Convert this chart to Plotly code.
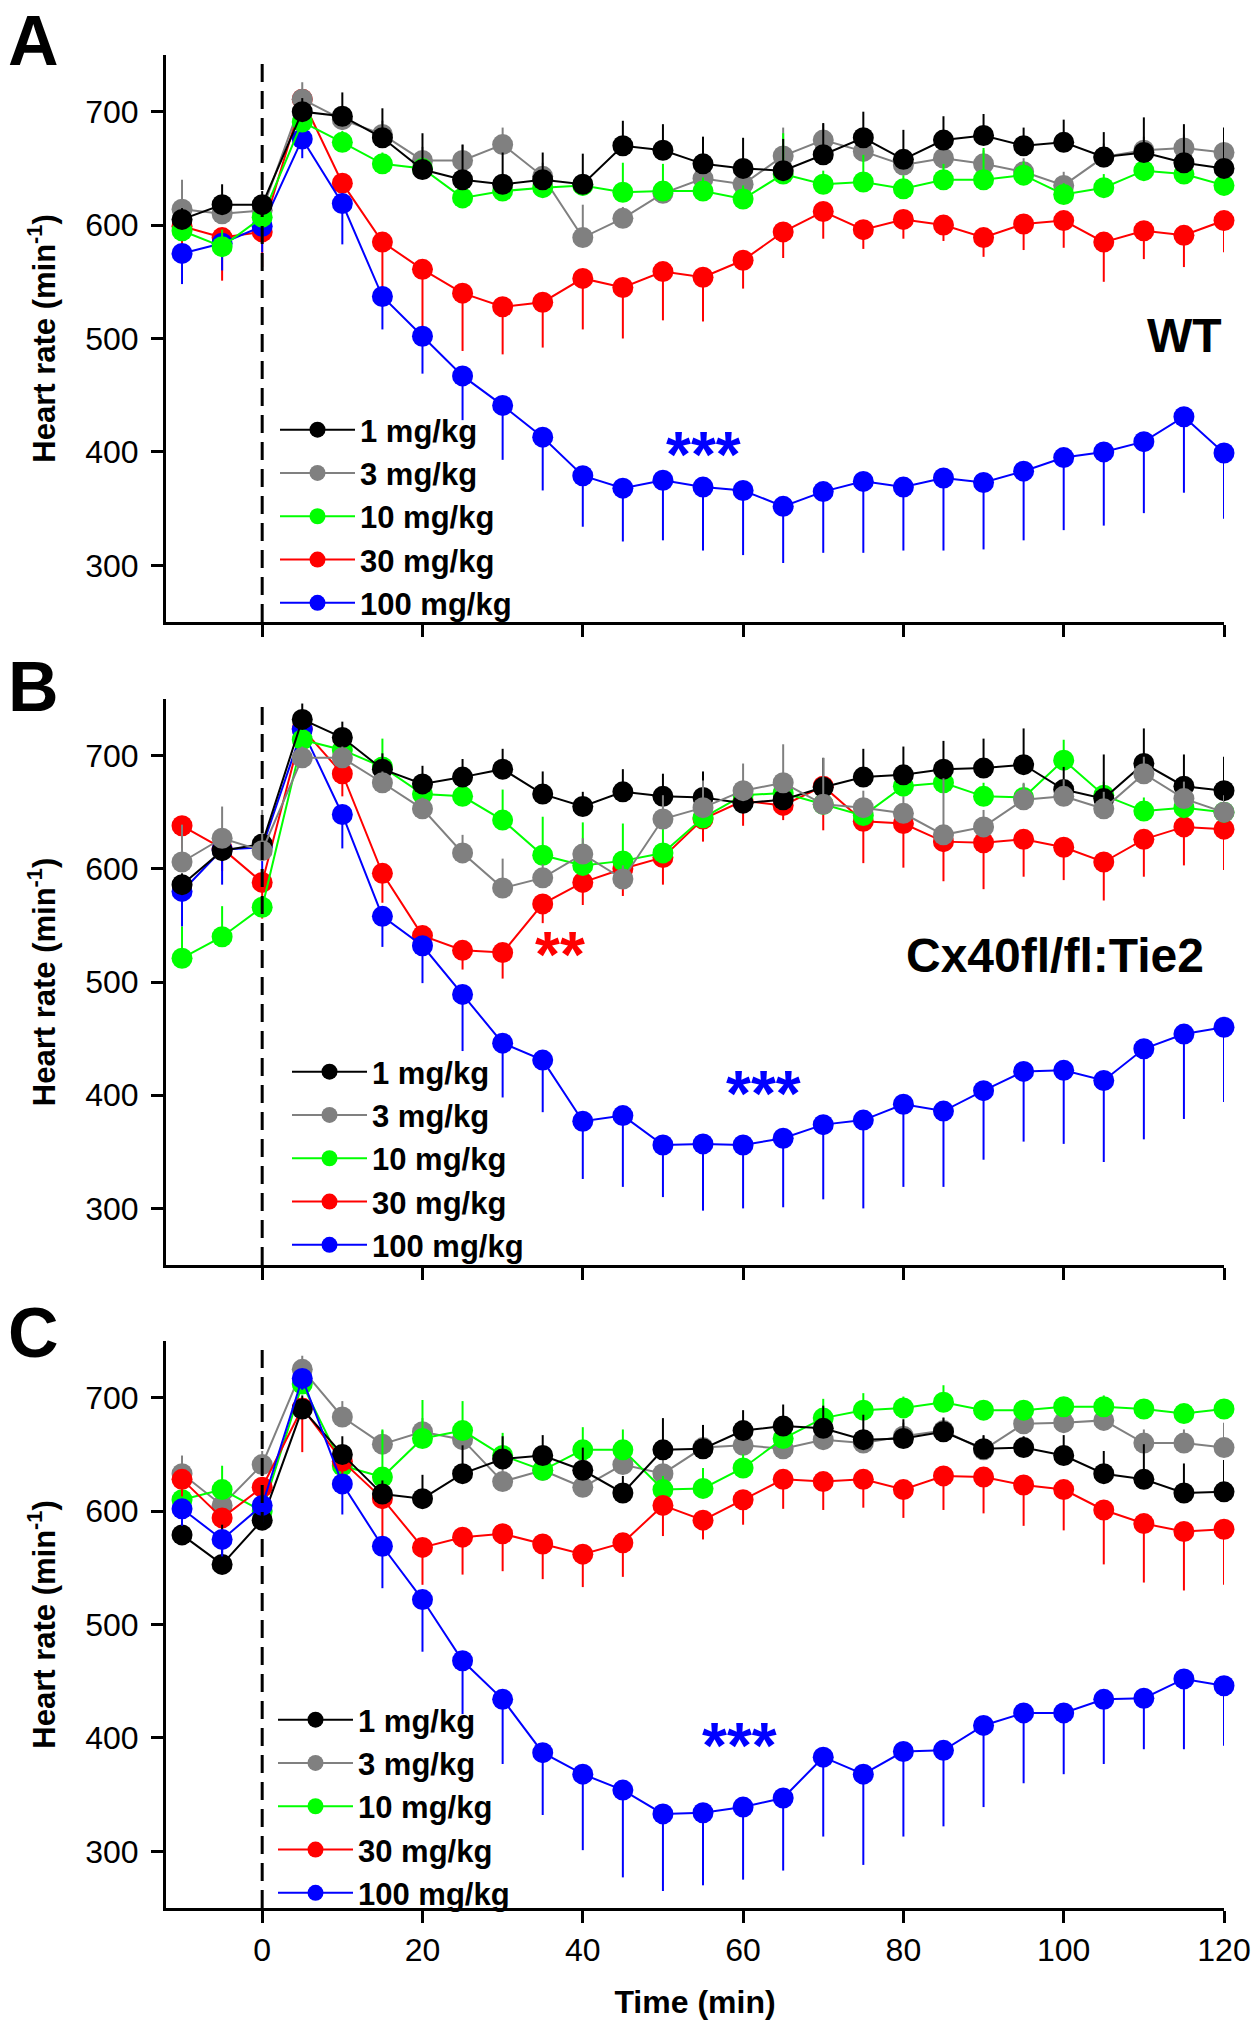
import plotly.graph_objects as go

# ---------------- data ----------------
time_min = [-10, -5, 0, 5, 10, 15, 20, 25, 30, 35, 40, 45, 50, 55, 60,
            65, 70, 75, 80, 85, 90, 95, 100, 105, 110, 115, 120]

doses = ["1 mg/kg", "3 mg/kg", "10 mg/kg", "30 mg/kg", "100 mg/kg"]
colors = ["#000000", "#808080", "#00ff00", "#ff0000", "#0000ff"]
err_up = [True, True, True, False, False]   # direction of the one-sided SEM bar

# Panel A (WT)
A_1 = [605, 618, 618, 700, 696, 677, 649, 640, 636, 640, 636, 670, 666, 654, 650, 648, 662, 677, 658, 675, 679, 670, 673, 660, 664, 655, 650]
A_3 = [614, 610, 613, 711, 693, 680, 657, 657, 671, 643, 589, 606, 628, 641, 636, 661, 675, 665, 653, 659, 654, 647, 635, 660, 666, 668, 664]
A_10 = [595, 581, 607, 691, 673, 654, 650, 624, 630, 633, 635, 629, 630, 630, 623, 645, 636, 638, 632, 640, 640, 644, 627, 633, 648, 645, 635]
A_30 = [599, 589, 594, 711, 637, 585, 561, 540, 528, 532, 553, 545, 559, 554, 569, 594, 612, 596, 605, 600, 589, 601, 604, 585, 595, 591, 604]
A_100 = [575, 584, 599, 676, 619, 537, 502, 467, 441, 413, 379, 368, 375, 369, 366, 352, 365, 374, 369, 377, 373, 383, 395, 400, 409, 431, 399]
A_1_err = [10, 18, 12, 12, 21, 26, 32, 31, 28, 24, 27, 22, 23, 24, 27, 28, 28, 23, 26, 21, 19, 16, 20, 22, 31, 34, 36]
A_3_err = [26, 12, 10, 15, 10, 12, 12, 14, 15, 12, 29, 10, 12, 12, 12, 25, 14, 12, 12, 12, 12, 12, 12, 12, 12, 12, 12]
A_10_err = [12, 15, 10, 10, 10, 10, 10, 10, 10, 10, 10, 26, 24, 12, 12, 36, 12, 24, 12, 14, 28, 12, 10, 12, 12, 10, 10]
A_30_err = [25, 38, 31, 10, 20, 40, 50, 51, 42, 40, 45, 45, 43, 39, 25, 23, 24, 17, 17, 14, 17, 23, 24, 35, 25, 28, 28]
A_100_err = [27, 24, 23, 17, 36, 29, 33, 39, 48, 47, 45, 47, 53, 56, 57, 50, 54, 63, 56, 64, 59, 61, 64, 65, 63, 67, 58]

# Panel B (Cx40fl/fl:Tie2)
B_1 = [586, 616, 622, 732, 716, 688, 675, 681, 688, 666, 655, 668, 664, 663, 658, 661, 672, 681, 683, 688, 689, 692, 670, 662, 693, 673, 669]
B_3 = [606, 627, 616, 698, 698, 676, 653, 614, 583, 592, 613, 591, 644, 654, 669, 676, 657, 654, 649, 630, 637, 661, 664, 653, 684, 662, 650]
B_10 = [521, 540, 566, 714, 705, 690, 666, 664, 643, 612, 603, 607, 614, 645, 665, 667, 657, 647, 673, 676, 664, 663, 696, 665, 651, 654, 650]
B_30 = [638, 618, 588, 724, 684, 596, 541, 528, 526, 569, 588, 600, 610, 644, 660, 656, 673, 642, 640, 624, 623, 626, 619, 606, 626, 637, 635]
B_100 = [580, 617, 619, 723, 648, 558, 532, 489, 446, 431, 377, 382, 356, 357, 356, 362, 374, 378, 392, 386, 404, 421, 422, 413, 441, 454, 460]
B_1_err = [10, 10, 15, 14, 14, 14, 16, 16, 18, 20, 13, 20, 20, 23, 20, 15, 26, 25, 25, 25, 26, 32, 20, 39, 31, 28, 30]
B_3_err = [33, 28, 36, 10, 10, 10, 10, 16, 26, 12, 14, 12, 21, 24, 24, 34, 41, 15, 15, 50, 15, 15, 15, 15, 15, 15, 15]
B_10_err = [28, 27, 10, 10, 10, 25, 12, 12, 27, 34, 38, 33, 26, 12, 12, 12, 12, 12, 12, 12, 12, 12, 18, 12, 12, 12, 12]
B_30_err = [20, 20, 32, 10, 20, 26, 15, 17, 23, 17, 20, 24, 24, 20, 22, 13, 39, 37, 39, 35, 41, 33, 29, 34, 33, 34, 36]
B_100_err = [31, 31, 30, 10, 30, 27, 33, 50, 48, 46, 51, 63, 46, 59, 56, 61, 66, 78, 73, 67, 61, 62, 65, 72, 80, 75, 66]

# Panel C (Cx40-/-)
C_1 = [579, 553, 592, 690, 650, 615, 611, 633, 646, 649, 636, 616, 654, 655, 671, 675, 673, 663, 664, 670, 655, 656, 649, 633, 628, 616, 617]
C_3 = [633, 605, 641, 725, 683, 659, 670, 663, 626, 636, 621, 641, 633, 656, 658, 655, 663, 660, 666, 671, 654, 677, 678, 680, 660, 660, 656]
C_10 = [610, 619, 600, 712, 640, 630, 664, 671, 649, 636, 654, 654, 619, 620, 638, 664, 682, 689, 691, 696, 689, 689, 692, 692, 690, 686, 690]
C_30 = [628, 594, 621, 691, 644, 611, 568, 577, 580, 571, 562, 572, 605, 592, 610, 628, 626, 628, 619, 631, 630, 623, 619, 601, 589, 582, 584]
C_100 = [602, 575, 605, 717, 624, 569, 522, 468, 434, 387, 368, 354, 333, 334, 339, 347, 383, 368, 388, 389, 411, 422, 422, 434, 435, 452, 446]
C_1_err = [12, 35, 20, 12, 16, 12, 21, 25, 20, 18, 20, 15, 28, 21, 18, 19, 20, 22, 17, 12, 12, 10, 18, 20, 31, 26, 28]
C_3_err = [16, 12, 12, 12, 14, 12, 12, 12, 12, 12, 12, 12, 15, 12, 12, 12, 12, 12, 12, 12, 12, 12, 12, 12, 12, 12, 22]
C_10_err = [12, 21, 12, 10, 12, 42, 34, 26, 20, 12, 20, 18, 12, 18, 12, 12, 17, 15, 10, 15, 8, 8, 8, 10, 8, 8, 8]
C_30_err = [15, 12, 12, 39, 15, 34, 33, 33, 33, 31, 29, 30, 27, 17, 22, 26, 25, 25, 25, 30, 32, 36, 36, 48, 52, 52, 49]
C_100_err = [15, 15, 15, 10, 27, 37, 46, 47, 57, 55, 67, 77, 68, 64, 64, 64, 70, 80, 75, 67, 72, 62, 54, 57, 45, 62, 53]

y_ticks = [300, 400, 500, 600, 700]
x_ticks = [0, 20, 40, 60, 80, 100, 120]
genotypes = ["WT", "Cx40fl/fl:Tie2", "Cx40-/-"]
panel_letters = ["A", "B", "C"]

panels = [
    dict(vals=[A_1, A_3, A_10, A_30, A_100], errs=[A_1_err, A_3_err, A_10_err, A_30_err, A_100_err],
         order=[3, 4, 1, 2, 0]),
    dict(vals=[B_1, B_3, B_10, B_30, B_100], errs=[B_1_err, B_3_err, B_10_err, B_30_err, B_100_err],
         order=[3, 4, 2, 0, 1]),
    dict(vals=[C_1, C_3, C_10, C_30, C_100], errs=[C_1_err, C_3_err, C_10_err, C_30_err, C_100_err],
         order=[1, 2, 3, 0, 4]),
]

# ---------------- layout geometry (pixels of the 1253x2031 page) ----------------
W, H = 1253, 2031
FONT = "Arial, Liberation Sans, Helvetica, sans-serif"
x_dom = [166 / W, 1224 / W]
y_px = [(55, 622), (699, 1265), (1341, 1908)]       # top, bottom of each plot area
legend_px = [(275, 403), (287, 1045), (273, 1693)]  # left, top of each legend
letter_top = [0, 646, 1292]
label_pos = [(120, 503), (117.8, 523), (120.3, 511)]
stars = [[("***", 55, 405, "#0000ff")],
         [("**", 37.2, 532, "#ff0000"), ("***", 62.5, 409, "#0000ff")],
         [("***", 59.5, 401, "#0000ff")]]

fig = go.Figure()
annotations = []
shapes = []

for p, panel in enumerate(panels):
    suffix = "" if p == 0 else str(p + 1)
    xa, ya = "x" + suffix, "y" + suffix
    leg = "legend" + suffix
    for k in panel["order"]:
        e = panel["errs"][k]
        zeros = [0] * len(e)
        fig.add_trace(go.Scatter(
            x=time_min, y=panel["vals"][k], xaxis=xa, yaxis=ya,
            mode="lines+markers", name=doses[k], legend=leg, legendrank=k + 1,
            line=dict(color=colors[k], width=2),
            marker=dict(color=colors[k], size=21, symbol="circle", line=dict(width=0)),
            error_y=dict(type="data", symmetric=False,
                         array=e if err_up[k] else zeros,
                         arrayminus=zeros if err_up[k] else e,
                         color=colors[k], thickness=2, width=0),
            cliponaxis=False,
        ))
    top, bot = y_px[p]
    dom = [1 - bot / H, 1 - top / H]
    last = p == 2
    xaxis = dict(
        domain=x_dom, anchor=ya, range=[-12, 120], tickvals=x_ticks, automargin=False,
        showticklabels=last, ticks="outside", ticklen=12, tickwidth=3, tickcolor="black",
        showline=True, linewidth=3, linecolor="black", showgrid=False, zeroline=False,
        tickfont=dict(family=FONT, size=32, color="black"),
    )
    if last:
        xaxis["title"] = dict(text="Time (min)", standoff=24,
                              font=dict(family=FONT, size=32, color="black", weight="bold"))
    fig.layout["xaxis" + suffix] = xaxis
    fig.layout["yaxis" + suffix] = dict(
        domain=dom, anchor=xa, range=[250, 750], tickvals=y_ticks, automargin=False,
        ticks="outside", ticklen=12, tickwidth=3, tickcolor="black", ticklabelstandoff=6,
        showline=True, linewidth=3, linecolor="black", showgrid=False, zeroline=False,
        tickfont=dict(family=FONT, size=32, color="black"),
        title=dict(text="Heart rate (min<sup>-1</sup>)", standoff=21,
                   font=dict(family=FONT, size=31, color="black", weight="bold")),
    )
    lx, ly = legend_px[p]
    fig.layout[leg] = dict(
        x=lx / W, y=1 - ly / H, xanchor="left", yanchor="top",
        bgcolor="rgba(0,0,0,0)", borderwidth=0, itemwidth=75, tracegroupgap=0,
        font=dict(family=FONT, size=31, color="black", weight="bold"),
    )
    # dashed line at injection time
    shapes.append(dict(type="line", xref=xa, yref=ya + " domain", x0=0, x1=0, y0=0, y1=1,
                       line=dict(color="black", width=3, dash="18px,9px")))
    # genotype label
    gx, gy = label_pos[p]
    annotations.append(dict(xref=xa, yref=ya, x=gx, y=gy, text=genotypes[p], showarrow=False,
                            xanchor="right", yanchor="middle",
                            font=dict(family=FONT, size=48, color="black", weight="bold")))
    # significance stars
    for txt, sx, sy, col in stars[p]:
        annotations.append(dict(xref=xa, yref=ya, x=sx, y=sy, text=txt, showarrow=False,
                                xanchor="center", yanchor="middle", yshift=-9,
                                font=dict(family=FONT, size=64, color=col, weight="bold")))
    # panel letter
    annotations.append(dict(xref="paper", yref="paper", x=0, y=1 - letter_top[p] / H, xshift=6,
                            text=panel_letters[p], showarrow=False, xanchor="left", yanchor="top",
                            font=dict(family=FONT, size=70, color="black", weight="bold")))

fig.update_layout(
    width=W, height=H, margin=dict(l=0, r=0, t=0, b=0),
    paper_bgcolor="white", plot_bgcolor="white",
    annotations=annotations, shapes=shapes,
)

fig.write_html("out.html", config={"displayModeBar": False},
               post_script="document.body.style.margin='0';")
